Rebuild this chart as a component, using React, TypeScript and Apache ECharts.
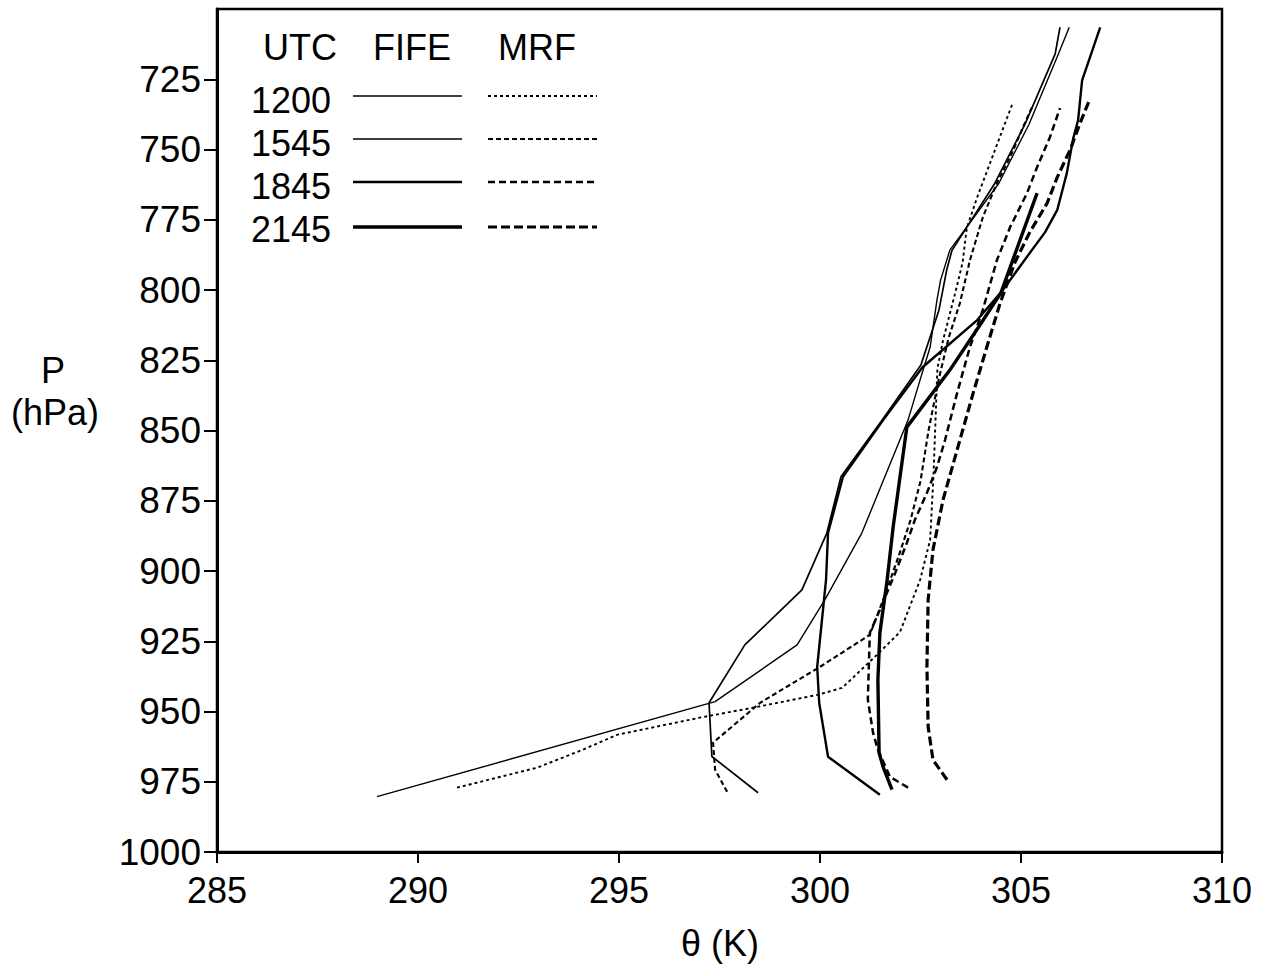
import React, { useEffect, useRef } from 'react';
import * as echarts from 'echarts';

// Potential temperature θ (K) vs pressure P (hPa)
const fife1200 = [[288.98,980.3],[297.39,946.5],[299.43,926.3],[300.12,910.3],[301.04,886.5],[302.19,846.3],[302.49,832.0],[302.74,820.3],[302.91,803.5],[303.0,796.5],[303.23,785.8],[304.45,762.0],[305.2,741.0],[305.93,716.0],[306.2,706.5]];
const fife1545 = [[298.46,978.9],[297.31,966.0],[297.24,946.9],[298.13,926.3],[299.55,906.7],[300.17,886.5],[300.52,866.5],[301.52,846.8],[302.51,826.7],[302.96,807.1],[303.15,793.0],[303.28,786.0],[304.35,762.0],[305.1,741.0],[305.85,716.0],[305.97,706.5]];
const fife1845 = [[301.49,979.6],[300.20,966.1],[299.98,946.9],[299.93,934.1],[300.15,903.2],[300.2,886.5],[300.57,866.5],[301.57,846.3],[302.55,827.5],[303.91,810.7],[304.55,800.0],[305.05,790.1],[305.60,779.4],[305.90,771.6],[306.14,758.4],[306.30,746.0],[306.42,739.6],[306.52,725.4],[306.97,706.5]];
const fife2145 = [[301.79,977.8],[301.57,969.7],[301.47,964.7],[301.44,938.7],[301.49,922.0],[301.67,903.2],[301.82,884.3],[302.16,848.8],[303.23,828.5],[304.0,812.0],[304.5,801.0],[305.4,765.5]];

const mrf1200 = [[290.97,977.1],[292.96,970.0],[294.10,963.6],[294.95,958.3],[297.01,952.2],[298.31,948.7],[299.93,944.1],[300.55,941.6],[301.42,929.8],[301.99,921.7],[302.49,903.2],[302.74,888.9],[302.82,867.0],[302.88,844.0],[302.92,828.0],[303.06,818.0],[303.4,799.0],[303.55,790.0],[303.65,778.0],[303.91,767.0],[304.8,733.2]];
const mrf1545 = [[297.69,978.6],[297.39,970.7],[297.34,961.1],[298.51,946.9],[300.0,934.1],[301.24,922.7],[301.55,911.0],[301.95,895.0],[302.25,882.0],[302.5,868.0],[302.7,850.0],[302.95,832.0],[303.2,817.0],[303.48,804.7],[303.73,789.4],[304.05,774.1],[304.4,762.0],[304.73,752.7],[305.05,742.1],[305.27,735.0]];
const mrf1845 = [[302.19,977.1],[301.74,973.2],[301.44,963.6],[301.32,957.6],[301.19,945.8],[301.24,922.0],[301.49,913.8],[301.87,900.7],[302.16,890.0],[302.36,881.8],[302.66,872.2],[302.91,863.0],[303.11,853.4],[303.41,836.7],[303.73,820.3],[304.05,807.1],[304.40,789.4],[304.73,777.6],[305.15,765.5],[305.40,756.3],[305.72,745.6],[305.97,735.3]];
const mrf2145 = [[303.16,974.3],[302.81,967.2],[302.69,955.4],[302.66,934.1],[302.69,910.3],[302.81,892.5],[303.06,874.7],[303.48,853.4],[303.81,836.7],[304.15,820.3],[304.48,804.7],[304.85,790.1],[305.22,779.4],[305.65,769.1],[305.90,759.9],[306.22,750.2],[306.47,740.6],[306.72,731.8]];

const utcLabels = ['1200', '1545', '1845', '2145'];
const yTicks = [725, 750, 775, 800, 825, 850, 875, 900, 925, 950, 975, 1000];

const FONT = '"Liberation Sans", Arial, Helvetica, sans-serif';

const fifeWidths = [1.4, 1.7, 2.4, 3.4];
const mrfStyles = [
  { width: 1.9, dash: [3, 3] },
  { width: 2.1, dash: [5, 3] },
  { width: 2.5, dash: [7, 4] },
  { width: 3.2, dash: [9, 4] },
];

export default function App() {
  const ref = useRef<HTMLDivElement>(null);
  useEffect(() => {
    const chart = echarts.init(ref.current!, null, { renderer: 'svg' });
    const fife = [fife1200, fife1545, fife1845, fife2145];
    const mrf = [mrf1200, mrf1545, mrf1845, mrf2145];
    const series: any[] = [];
    fife.forEach((d, i) => {
      series.push({
        name: 'FIFE ' + utcLabels[i], type: 'line', data: d, showSymbol: false, symbol: 'none',
        lineStyle: { color: '#000', width: fifeWidths[i], type: 'solid' }, emphasis: { disabled: true },
      });
    });
    mrf.forEach((d, i) => {
      series.push({
        name: 'MRF ' + utcLabels[i], type: 'line', data: d, showSymbol: false, symbol: 'none',
        lineStyle: { color: '#000', width: mrfStyles[i].width, type: mrfStyles[i].dash }, emphasis: { disabled: true },
      });
    });

    const graphics: any[] = [];
    const headerY = 47;
    [['UTC', 300], ['FIFE', 412], ['MRF', 537]].forEach(([t, x]) => {
      graphics.push({ type: 'text', x: x as number, y: headerY, style: { text: t as string, font: `36px ${FONT}`, fill: '#000', align: 'center', verticalAlign: 'middle' } });
    });
    const rowY = [100, 143, 186, 229];
    const lineY = [96, 139, 182, 227];
    utcLabels.forEach((lab, i) => {
      graphics.push({ type: 'text', x: 331, y: rowY[i], style: { text: lab, font: `36px ${FONT}`, fill: '#000', align: 'right', verticalAlign: 'middle' } });
      graphics.push({ type: 'line', shape: { x1: 353, y1: lineY[i], x2: 462, y2: lineY[i] }, style: { stroke: '#000', lineWidth: fifeWidths[i] } });
      graphics.push({ type: 'line', shape: { x1: 488, y1: lineY[i], x2: 597, y2: lineY[i] }, style: { stroke: '#000', lineWidth: mrfStyles[i].width, lineDash: mrfStyles[i].dash } });
    });
    graphics.push({ type: 'text', x: 53, y: 370, style: { text: 'P', font: `36px ${FONT}`, fill: '#000', align: 'center', verticalAlign: 'middle' } });
    graphics.push({ type: 'text', x: 55, y: 412, style: { text: '(hPa)', font: `36px ${FONT}`, fill: '#000', align: 'center', verticalAlign: 'middle' } });
    graphics.push({ type: 'text', x: 720, y: 943, style: { text: 'θ (K)', font: `36px ${FONT}`, fill: '#000', align: 'center', verticalAlign: 'middle' } });

    chart.setOption({
      animation: false,
      backgroundColor: '#fff',
      grid: { left: 217, right: 45, top: 9, bottom: 124, show: true, borderColor: '#000', borderWidth: 2.5, backgroundColor: 'transparent' },
      xAxis: {
        type: 'value', min: 285, max: 310, interval: 5,
        axisLine: { show: true, lineStyle: { color: '#000', width: 3 } },
        axisTick: { show: true, length: 11, lineStyle: { color: '#000', width: 2 } },
        axisLabel: { color: '#000', fontSize: 36, fontFamily: FONT, margin: 20 },
        splitLine: { show: false },
      },
      yAxis: {
        type: 'value', inverse: true, min: 700, max: 1000, interval: 25,
        axisLine: { show: true, lineStyle: { color: '#000', width: 3 } },
        axisTick: { show: true, length: 13, customValues: yTicks, lineStyle: { color: '#000', width: 2 } },
        axisLabel: { color: '#000', fontSize: 37, fontFamily: FONT, margin: 16, customValues: yTicks,
          formatter: (v: number) => (v === 700 ? '' : String(v)) },
        splitLine: { show: false },
      },
      series,
      graphic: graphics,
    });
    return () => chart.dispose();
  }, []);
  return <div ref={ref} style={{ position: 'absolute', left: 0, top: 0, width: 1267, height: 976, background: '#fff' }} />;
}
